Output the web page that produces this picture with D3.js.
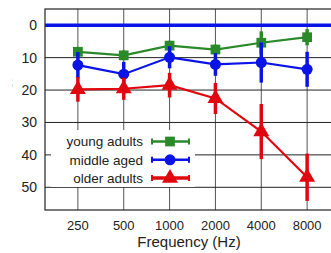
<!DOCTYPE html>
<html>
<head>
<meta charset="utf-8">
<script src="https://cdn.jsdelivr.net/npm/d3@7"></script>
<style>
  body { margin: 0; background: #fff; overflow: hidden; }
  text { font-family: "Liberation Sans", Arial, sans-serif; fill: #222; }
</style>
</head>
<body>
<svg id="chart" width="331" height="253"></svg>
<script>
"use strict";

// data
var freqs = [250, 500, 1000, 2000, 4000, 8000];
var yTicks = [0, 10, 20, 30, 40, 50];

var youngMean = [8.2, 9.3, 6.3, 7.5, 5.4, 3.7];
var youngErr  = [1.5, 1.5, 1.5, 1.5, 3.5, 2.5];
var middleMean = [12.3, 15.1, 9.9, 12.1, 11.5, 13.6];
var middleErr  = [4.0, 3.8, 3.4, 3.5, 6.2, 5.4];
var olderMean = [19.8, 19.6, 18.5, 22.6, 32.8, 46.9];
var olderErr  = [3.8, 3.4, 3.8, 4.8, 8.5, 7.3];

var seriesNames = ["young adults", "middle aged", "older adults"];
var seriesColors = ["#2a8a2a", "#0a14e6", "#e0070e"];
var seriesShapes = [d3.symbolSquare, d3.symbolCircle, d3.symbolTriangle];

var series = seriesNames.map(function(name, i) {
    var means = [youngMean, middleMean, olderMean][i];
    var errs = [youngErr, middleErr, olderErr][i];
    return {
        name: name,
        color: seriesColors[i],
        shape: seriesShapes[i],
        points: freqs.map(function(f, j) { return {f: f, y: means[j], e: errs[j]}; })
    };
});

var svg = d3.select("#chart");
var plotLeft = 45, plotTop = 9, plotRight = 345, plotBottom = 210;

var x = d3.scaleLog().base(2)
    .domain([250 / Math.pow(2, 33 / 46), 8000 * Math.pow(2, 38 / 46)])
    .range([plotLeft, plotRight]);
var y = d3.scaleLinear().domain([-5, 57]).range([plotTop, plotBottom]);

// grid
svg.append("g").selectAll("line").data(freqs).enter().append("line")
    .attr("x1", function(d) { return x(d); }).attr("x2", function(d) { return x(d); })
    .attr("y1", plotTop).attr("y2", plotBottom)
    .style("stroke", "#555").style("stroke-width", 1);
svg.append("g").selectAll("line").data(yTicks).enter().append("line")
    .attr("x1", plotLeft).attr("x2", plotRight)
    .attr("y1", function(d) { return y(d); }).attr("y2", function(d) { return y(d); })
    .style("stroke", "#222").style("stroke-width", 1);

// frame
svg.append("rect").attr("x", plotLeft).attr("y", plotTop)
    .attr("width", plotRight - plotLeft).attr("height", plotBottom - plotTop)
    .style("fill", "none").style("stroke", "#222").style("stroke-width", 1.2);

// axis labels
svg.append("g").selectAll("text").data(yTicks).enter().append("text")
    .attr("x", 37).attr("y", function(d) { return y(d); }).attr("dy", "0.35em")
    .attr("text-anchor", "end").style("font-size", "14px")
    .text(function(d) { return d; });
svg.append("g").selectAll("text").data(freqs).enter().append("text")
    .attr("x", function(d) { return x(d); }).attr("y", 230)
    .attr("text-anchor", "middle").style("font-size", "13px")
    .text(function(d) { return d; });
svg.append("text").attr("x", 189).attr("y", 247)
    .attr("text-anchor", "middle").style("font-size", "15px")
    .text("Frequency (Hz)");

// y title: the source picture is cropped so only slivers of it show
svg.append("clipPath").attr("id", "ytitle-clip")
    .append("rect").attr("x", 11).attr("y", 0).attr("width", 10).attr("height", 253);
svg.append("text")
    .attr("clip-path", "url(#ytitle-clip)")
    .attr("transform", "translate(12,100) rotate(-90)")
    .attr("text-anchor", "middle").style("font-size", "14px")
    .text("Hearing threshold (dB HL)");

// reference line at 0
svg.append("line").attr("x1", plotLeft).attr("x2", plotRight)
    .attr("y1", y(0)).attr("y2", y(0))
    .style("stroke", "#0a14e6").style("stroke-width", 3.5);

// series
var line = d3.line()
    .x(function(d) { return x(d.f); })
    .y(function(d) { return y(d.y); });

series.forEach(function(s) {
    var g = svg.append("g");
    g.append("path").datum(s.points).attr("d", line)
        .style("fill", "none").style("stroke", s.color).style("stroke-width", 2.2);
    g.selectAll("line").data(s.points).enter().append("line")
        .attr("x1", function(d) { return x(d.f); }).attr("x2", function(d) { return x(d.f); })
        .attr("y1", function(d) { return y(d.y - d.e); })
        .attr("y2", function(d) { return y(d.y + d.e); })
        .style("stroke", s.color).style("stroke-width", 3.5);
    g.selectAll("path.mk").data(s.points).enter().append("path")
        .attr("class", "mk")
        .attr("transform", function(d) { return "translate(" + x(d.f) + "," + y(d.y) + ")"; })
        .attr("d", d3.symbol().type(s.shape).size(s.shape === d3.symbolTriangle ? 110 : 95))
        .style("fill", s.color);
});

// legend
var legend = svg.append("g");
legend.append("rect").attr("x", 51).attr("y", 130).attr("width", 144).attr("height", 57)
    .style("fill", "#fff");
series.forEach(function(s, i) {
    var ly = 141.5 + i * 18.3;
    legend.append("text").attr("x", 143).attr("y", ly).attr("dy", "0.35em")
        .attr("text-anchor", "end").style("font-size", "13.5px").text(s.name);
    legend.append("line").attr("x1", 152).attr("x2", 189).attr("y1", ly).attr("y2", ly)
        .style("stroke", s.color).style("stroke-width", i === 2 ? 3.5 : 2.5);
    [152, 189].forEach(function(cx) {
        legend.append("line").attr("x1", cx).attr("x2", cx).attr("y1", ly - 3).attr("y2", ly + 3)
            .style("stroke", s.color).style("stroke-width", 2);
    });
    legend.append("path").attr("transform", "translate(170," + ly + ")")
        .attr("d", d3.symbol().type(s.shape).size(i === 2 ? 110 : 95))
        .style("fill", s.color);
});
</script>
</body>
</html>
